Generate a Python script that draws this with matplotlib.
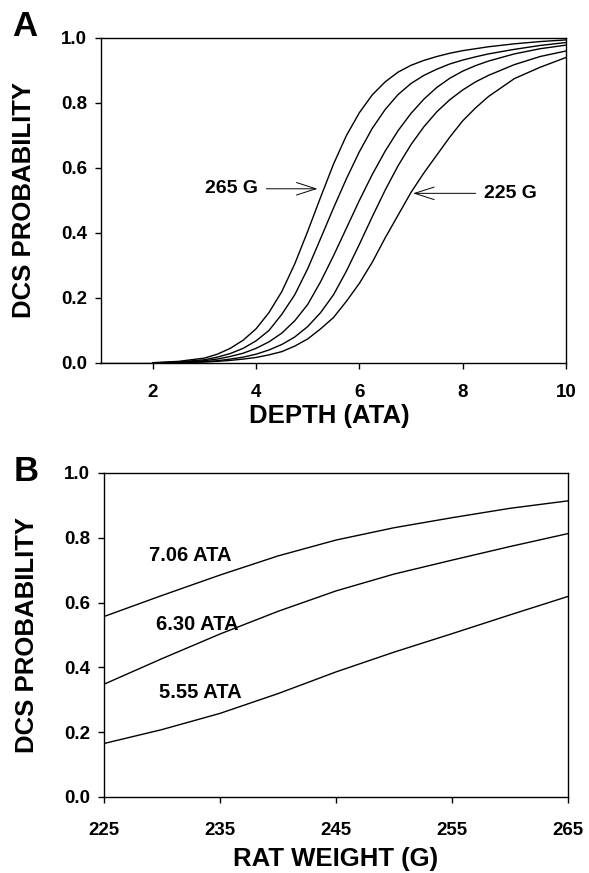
import matplotlib
matplotlib.use("Agg")
import matplotlib.pyplot as plt

plt.rcParams['font.family'] = ['Liberation Sans', 'DejaVu Sans']
plt.rcParams['font.weight'] = 'bold'

# panel A : DCS probability vs depth, one curve per rat weight
depth = [2.0, 2.5, 3.0, 3.25, 3.5, 3.75, 4.0, 4.25, 4.5, 4.75, 5.0, 5.25, 5.5, 5.75,
         6.0, 6.25, 6.5, 6.75, 7.0, 7.25, 7.5, 7.75, 8.0, 8.25, 8.5, 9.0, 9.5, 10.0]
p_265 = [0.001, 0.005, 0.015, 0.027, 0.045, 0.07, 0.105, 0.155, 0.22, 0.305, 0.405, 0.51, 0.612, 0.70,
         0.77, 0.825, 0.865, 0.895, 0.916, 0.931, 0.943, 0.953, 0.961, 0.967, 0.973, 0.982, 0.989, 0.994]
p_255 = [0.0, 0.003, 0.01, 0.018, 0.029, 0.045, 0.068, 0.1, 0.15, 0.21, 0.29, 0.383, 0.477, 0.567,
         0.65, 0.722, 0.78, 0.826, 0.86, 0.885, 0.904, 0.92, 0.932, 0.942, 0.951, 0.965, 0.977, 0.986]
p_245 = [0.0, 0.002, 0.007, 0.012, 0.02, 0.03, 0.045, 0.065, 0.092, 0.13, 0.18, 0.25, 0.33, 0.415,
         0.5, 0.58, 0.652, 0.715, 0.768, 0.812, 0.848, 0.876, 0.898, 0.915, 0.929, 0.951, 0.967, 0.978]
p_235 = [0.0, 0.001, 0.004, 0.007, 0.012, 0.018, 0.027, 0.04, 0.057, 0.08, 0.112, 0.155, 0.21, 0.283,
         0.365, 0.45, 0.532, 0.607, 0.672, 0.727, 0.773, 0.81, 0.84, 0.865, 0.885, 0.918, 0.943, 0.96]
p_225 = [0.0, 0.001, 0.003, 0.005, 0.008, 0.012, 0.017, 0.025, 0.035, 0.052, 0.074, 0.105, 0.14, 0.19,
         0.245, 0.31, 0.385, 0.455, 0.525, 0.585, 0.64, 0.695, 0.745, 0.785, 0.82, 0.875, 0.91, 0.94]

# panel B : DCS probability vs rat weight at three depths
weight = [225, 230, 235, 240, 245, 250, 255, 260, 265]
p_706 = [0.557, 0.622, 0.685, 0.744, 0.793, 0.831, 0.862, 0.891, 0.914]
p_630 = [0.348, 0.427, 0.503, 0.573, 0.636, 0.688, 0.731, 0.773, 0.813]
p_555 = [0.165, 0.208, 0.258, 0.319, 0.386, 0.447, 0.504, 0.562, 0.619]

fig = plt.figure(figsize=(5.89, 8.73), dpi=100)
axA = fig.add_axes([0.1715, 0.5842, 0.7895, 0.3723])
axB = fig.add_axes([0.1766, 0.0871, 0.7878, 0.3711])

for p in [p_265, p_255, p_245, p_235, p_225]:
    axA.plot(depth, p, color='black', lw=1.0)
axA.plot([1, 2], [0, 0], color='black', lw=1.0)

axA.set_xlim(1, 10)
axA.set_ylim(0, 1)
axA.set_xticks([2, 4, 6, 8, 10])
axA.set_yticks([0, 0.2, 0.4, 0.6, 0.8, 1.0])
axA.set_yticklabels(['0.0', '0.2', '0.4', '0.6', '0.8', '1.0'])

arrow = dict(arrowstyle='->, head_length=1.4, head_width=0.45',
             mutation_scale=10, lw=0.7, color='black', shrinkA=4, shrinkB=0)
axA.annotate('265 G', xy=(5.19, 0.536), xytext=(4.04, 0.536), ha='right', va='center',
             fontsize=14, fontweight='bold', arrowprops=arrow)
axA.annotate('225 G', xy=(7.04, 0.522), xytext=(8.41, 0.522), ha='left', va='center',
             fontsize=14, fontweight='bold', arrowprops=arrow)

axB.plot(weight, p_706, color='black', lw=1.0)
axB.plot(weight, p_630, color='black', lw=1.0)
axB.plot(weight, p_555, color='black', lw=1.0)
axB.set_xlim(225, 265)
axB.set_ylim(0, 1)
axB.set_xticks([225, 235, 245, 255, 265])
axB.set_yticks([0, 0.2, 0.4, 0.6, 0.8, 1.0])
axB.set_yticklabels(['0.0', '0.2', '0.4', '0.6', '0.8', '1.0'])

axB.text(228.9, 0.746, '7.06 ATA', ha='left', va='center', fontsize=14.5, fontweight='bold')
axB.text(229.5, 0.533, '6.30 ATA', ha='left', va='center', fontsize=14.5, fontweight='bold')
axB.text(229.7, 0.322, '5.55 ATA', ha='left', va='center', fontsize=14.5, fontweight='bold')

for ax in [axA, axB]:
    ax.tick_params(axis='both', direction='out', length=4, width=1, labelsize=13.5)
    ax.tick_params(axis='y', pad=6)
    for lab in ax.get_xticklabels() + ax.get_yticklabels():
        lab.set_fontweight('bold')
    for s in ax.spines.values():
        s.set_linewidth(1.0)
    ax.set_ylabel('DCS PROBABILITY', fontsize=18.5, fontweight='bold', va='center')
    ax.yaxis.set_label_coords(-0.165, 0.5)
axA.tick_params(axis='x', pad=11)
axB.tick_params(axis='x', pad=14)

axA.set_xlabel('DEPTH (ATA)', fontsize=18.5, fontweight='bold', va='center')
axA.xaxis.set_label_coords(0.49, -0.163)
axB.set_xlabel('RAT WEIGHT (G)', fontsize=18.5, fontweight='bold', va='center')
axB.xaxis.set_label_coords(0.5, -0.193)

fig.text(25 / 589, 1 - 26 / 873, 'A', fontsize=25, fontweight='bold', ha='center', va='center')
fig.text(26 / 589, 1 - 472 / 873, 'B', fontsize=25, fontweight='bold', ha='center', va='center')

plt.savefig('out.png', dpi=100)
